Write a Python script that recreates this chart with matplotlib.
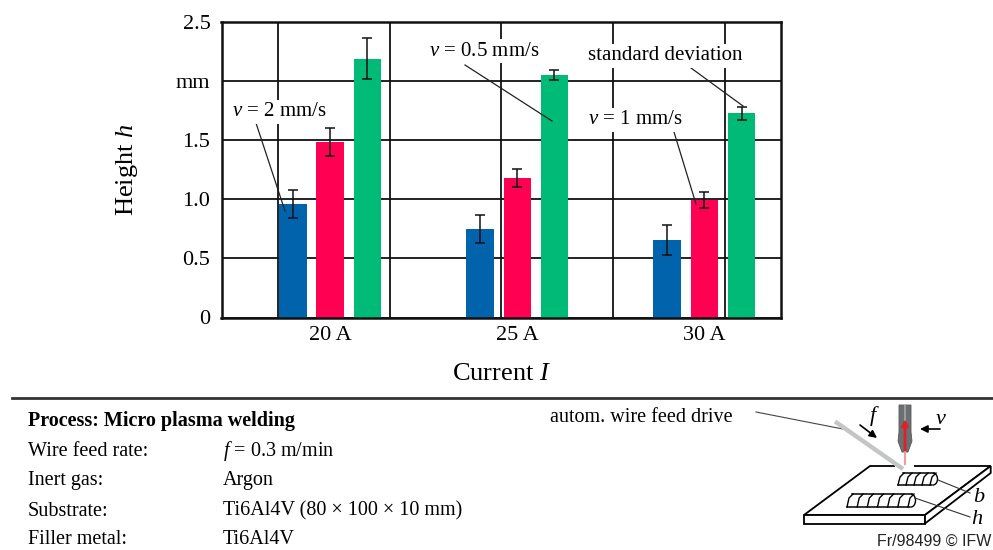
import numpy as np
import matplotlib
matplotlib.use('Agg')
import matplotlib.pyplot as plt
from matplotlib.patches import Polygon, Rectangle, Arc

plt.rcParams['font.family'] = ['Liberation Serif']
plt.rcParams['mathtext.fontset'] = 'custom'
plt.rcParams['mathtext.rm'] = 'Liberation Serif'
plt.rcParams['mathtext.it'] = 'Liberation Serif:italic'

currents = ['20 A', '25 A', '30 A']
height_2 = [0.96, 0.75, 0.655]
height_1 = [1.485, 1.18, 0.995]
height_05 = [2.19, 2.05, 1.73]
err_2 = [0.12, 0.12, 0.125]
err_1 = [0.12, 0.075, 0.07]
err_05 = [0.175, 0.04, 0.055]
y_ticks = [0, 0.5, 1.0, 1.5, 2.0, 2.5]
y_labels = ['0', '0.5', '1.0', '1.5', 'mm', '2.5']

W, H = 993, 550
fig = plt.figure(figsize=(W / 100, H / 100), dpi=100)

# main chart, placed by pixels
ax = fig.add_axes([221.5 / W, 1 - 317.5 / H, 559.5 / W, 295.5 / H])
x = np.arange(len(currents))
bw = 0.1465
off = 0.199
for vals, errs, col, shift in [(height_2, err_2, '#0063ab', -off),
                               (height_1, err_1, '#ff0052', 0),
                               (height_05, err_05, '#00ba78', off)]:
    ax.bar(x + shift, vals, bw, color=col, zorder=3, yerr=errs,
           error_kw=dict(ecolor='#111111', elinewidth=1.1, capsize=3.5, capthick=1.1, zorder=4))

ax.set_xlim(-0.581, 2.41)
ax.set_ylim(0, 2.5)
ax.set_yticks(y_ticks)
ax.set_yticklabels(y_labels, fontsize=16)
ax.set_xticks(x)
ax.set_xticklabels(currents, fontsize=16)
ax.set_xticks(-0.279 + 0.597 * np.arange(5), minor=True)
ax.tick_params(which='both', length=0)
ax.tick_params(axis='y', pad=8)
ax.tick_params(axis='x', pad=6)
ax.grid(True, axis='y', color='#111111', lw=1.3, zorder=1)
ax.grid(True, axis='x', which='minor', color='#111111', lw=1.3, zorder=1)
ax.grid(False, axis='x', which='major')
ax.set_axisbelow(True)
for s in ax.spines.values():
    s.set_linewidth(1.8)
    s.set_color('#111111')
    s.set_zorder(5)
ax.set_ylabel(r'Height $\mathit{h}$', fontsize=19)
ax.yaxis.set_label_coords(-0.145, 0.5)
ax.set_xlabel(r'Current $\mathit{I}$', fontsize=19)
ax.xaxis.set_label_coords(0.5, -0.155)

# overlay in pixel coordinates for the notes and the sketch
ov = fig.add_axes([0, 0, 1, 1], zorder=10)
ov.set_xlim(0, W)
ov.set_ylim(H, 0)
ov.axis('off')
ov.patch.set_alpha(0)

white = dict(facecolor='white', edgecolor='none', pad=1.5)
for tx, ty, s in [(232, 112, r'$\mathit{v}$ = 2 mm/s'),
                  (429, 51, r'$\mathit{v}$ = 0.5 mm/s'),
                  (588, 120, r'$\mathit{v}$ = 1 mm/s'),
                  (588, 56, 'standard deviation')]:
    ov.text(tx, ty, s, fontsize=15, va='center', ha='left', bbox=white)
for a, b, c, d in [(255, 120, 285, 211), (465, 65, 552, 121),
                   (674, 132, 696, 204), (691, 68, 743, 106)]:
    ov.plot([a, c], [b, d], color='#222222', lw=0.9)

# lower panel
ov.plot([12, 993], [397.5, 397.5], color='#333333', lw=2)
ov.text(28, 421, 'Process: Micro plasma welding', fontsize=14.5, fontweight='bold', va='center')
rows = [('Wire feed rate:', r'$\mathit{f}$ = 0.3 m/min', 451),
        ('Inert gas:', 'Argon', 481),
        ('Substrate:', 'Ti6Al4V (80 × 100 × 10 mm)', 511),
        ('Filler metal:', 'Ti6Al4V', 540)]
for left, right, ty in rows:
    ov.text(28, ty, left, fontsize=14.5, va='center')
    ov.text(223, ty, right, fontsize=14.5, va='center')
ov.text(550, 418, 'autom. wire feed drive', fontsize=14.5, va='center')

# sketch: plate
lw = 1.3
plate = [(870, 466), (990.7, 466), (925, 515), (804, 515)]
ov.add_patch(Polygon(plate, closed=True, fc='white', ec='black', lw=lw))
ov.add_patch(Polygon([(804, 515), (925, 515), (925, 523.5), (804, 523.5)], closed=True, fc='white', ec='black', lw=lw))
ov.add_patch(Polygon([(925, 515), (990.7, 466), (990.7, 473), (925, 523.5)], closed=True, fc='white', ec='black', lw=lw))
ov.add_patch(Rectangle((895, 462), 19, 7, fc='white', ec='none', zorder=2))


def weld(x0, x1, y0, y1, n):
    # scalloped bead with a top line
    ov.plot([x0 + 5, x1 - 4], [y0, y0], color='black', lw=1.1, zorder=3)
    ov.plot([x0, x1 - 6], [y1, y1], color='black', lw=1.1, zorder=3)
    for xs in np.linspace(x0, x1 - 8, n):
        ov.plot([xs, xs + 2, xs + 6], [y1, y0 + 4, y0], color='black', lw=1.0, zorder=3)
    ov.add_patch(Arc((x1 - 5, (y0 + y1) / 2), 9, y1 - y0, theta1=-90, theta2=90, color='black', lw=1.0, zorder=3))


weld(898, 938, 473, 485, 5)
weld(847, 916, 494, 507, 7)
ov.plot([938, 970], [480, 493], color='#333333', lw=0.8, zorder=3)
ov.plot([915, 970], [498, 517], color='#333333', lw=0.8, zorder=3)
ov.text(979, 498, r'$\mathit{b}$', fontsize=16, ha='center', va='center')
ov.text(977, 520, r'$\mathit{h}$', fontsize=16, ha='center', va='center')

# wire, leader, arrows
ov.plot([835, 903], [421.5, 469], color='#c4c6c5', lw=3.2, zorder=4, solid_capstyle='butt')
ov.plot([756, 848], [412, 430], color='#444444', lw=0.8, zorder=3)
ov.annotate('', xy=(877, 438), xytext=(860, 425), zorder=5,
            arrowprops=dict(arrowstyle='-|>', color='black', lw=1.2, mutation_scale=11, shrinkA=0, shrinkB=0))
ov.annotate('', xy=(920, 429), xytext=(940, 429), zorder=5,
            arrowprops=dict(arrowstyle='-|>', color='black', lw=1.2, mutation_scale=11, shrinkA=0, shrinkB=0))
ov.text(874, 416, r'$\mathit{f}$', fontsize=16, ha='center', va='center')
ov.text(941, 419, r'$\mathit{v}$', fontsize=16, ha='center', va='center')

# torch
ov.add_patch(Polygon([(899, 405), (911, 405), (911, 432), (912, 441), (908, 452), (902, 452), (898, 441), (899, 432)],
                     closed=True, fc='#6c6f72', ec='#55585a', lw=0.6, zorder=5))
ov.add_patch(Rectangle((904, 405), 2, 27, fc='#9a9da0', ec='none', zorder=5))
ov.plot([905, 905], [452, 464], color='#e8a0a0', lw=1.6, zorder=5)
ov.annotate('', xy=(905, 419), xytext=(905, 450), zorder=6,
            arrowprops=dict(arrowstyle='-|>', color='#d8232a', lw=2, mutation_scale=9, shrinkA=0, shrinkB=0))

ov.text(991, 541, 'Fr/98499 © IFW', fontsize=11.5, family='Liberation Sans', ha='right', va='center', color='#222222')

fig.savefig('out.png', dpi=100)
